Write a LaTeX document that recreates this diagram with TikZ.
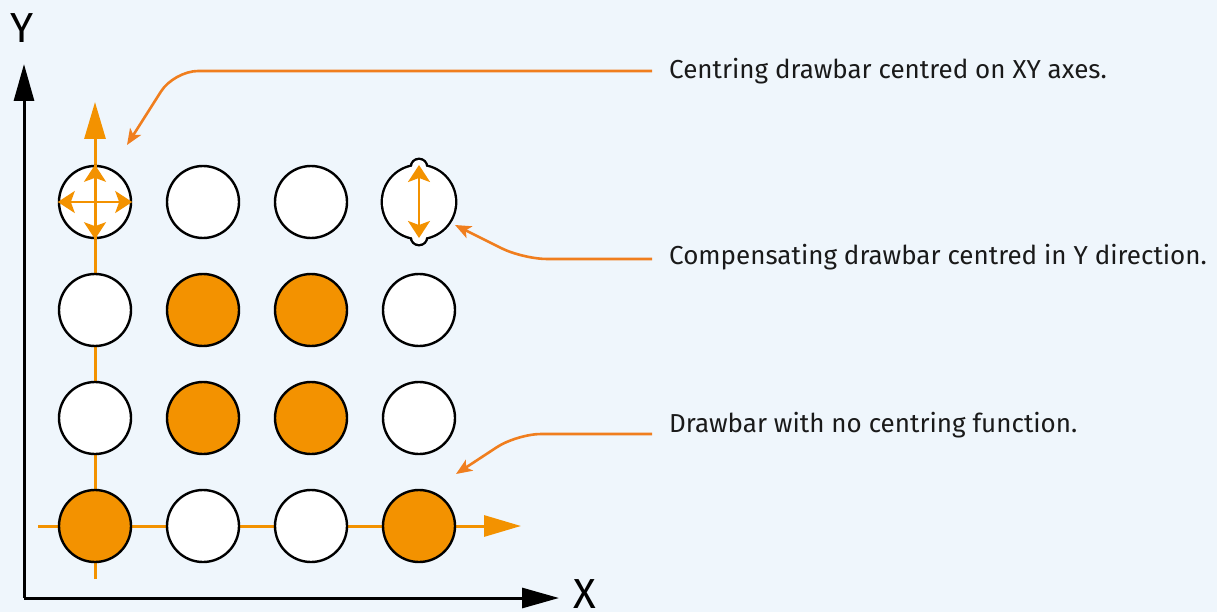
\documentclass[tikz,border=0pt]{standalone}
\usepackage{fontspec}
\setmainfont{Fira Sans}
\usetikzlibrary{arrows.meta}
\definecolor{bg}{HTML}{EFF6FC}
\definecolor{ora}{HTML}{F39200}
\definecolor{lead}{HTML}{F07E1E}
\definecolor{txt}{HTML}{1A1A1A}
\tikzset{
  disc/.style={circle,draw=black,line width=2.4pt,minimum size=72pt,inner sep=0pt},
  wdisc/.style={disc,fill=white},
  odisc/.style={disc,fill=ora},
  oaxis/.style={draw=ora,line width=3pt},
  bigtip/.style={-{Triangle[length=37pt,width=21pt]}},
  axisline/.style={draw=black,line width=3pt,-{Triangle[length=37pt,width=20pt]}},
  inarrow/.style={draw=ora,line width=2.4pt,{Stealth[length=17pt,width=22pt,inset=4pt]}-{Stealth[length=17pt,width=22pt,inset=4pt]}},
  leader/.style={draw=lead,line width=2.6pt,rounded corners=24pt,-{Stealth[length=16pt,width=13pt,inset=4pt]}},
  label/.style={anchor=west,inner ysep=0pt,inner xsep=17pt,text=txt,font=\fontsize{26}{30}\selectfont},
  axlabel/.style={text=black,inner sep=0pt,text height=29pt,text depth=0pt,font=\fontsize{42}{46}\selectfont}
}
\begin{document}
\begin{tikzpicture}[x=1pt,y=-1pt]
\fill[bg] (0,0) rectangle (1217,612);
\useasboundingbox (0,0) rectangle (1217,612);
% axes
\coordinate (o) at (24,598);
\coordinate (ytop) at (24,64);
\coordinate (xend) at (559,598);
\draw[axisline] (o) -- (ytop);
\draw[axisline] (o) -- (xend);
\node[axlabel] (ylab) at (22,28) {Y};
\node[axlabel] (xlab) at (585,594) {X};
% orange axes
\coordinate (vb) at (95,579);
\coordinate (vt) at (95,102);
\coordinate (hl) at (38,526);
\coordinate (hr) at (521,526);
\draw[oaxis,bigtip] (vb) -- (vt);
\draw[oaxis,bigtip] (hl) -- (hr);
% discs
\node[wdisc] (a1) at (95,202) {};
\node[wdisc] (a2) at (203,202) {};
\node[wdisc] (a3) at (311,202) {};
\node[wdisc] (b1) at (95,310) {};
\node[odisc] (b2) at (203,310) {};
\node[odisc] (b3) at (311,310) {};
\node[wdisc] (b4) at (419,310) {};
\node[wdisc] (c1) at (95,418) {};
\node[odisc] (c2) at (203,418) {};
\node[odisc] (c3) at (311,418) {};
\node[wdisc] (c4) at (419,418) {};
\node[odisc] (d1) at (95,526) {};
\node[wdisc] (d2) at (203,526) {};
\node[wdisc] (d3) at (311,526) {};
\node[odisc] (d4) at (419,526) {};
% compensating disc with tabs
\coordinate (a4) at (419,202);
\draw[black,line width=4.8pt] (a4) circle (36) (419,167) circle (7) (419,237) circle (7);
\fill[white] (a4) circle (36) (419,167) circle (7) (419,237) circle (7);
% arrows in first disc
\draw[oaxis] (a1.north) -- (a1.south);
\draw[inarrow] (a1.west) -- (a1.east);
\draw[inarrow] (a1.north) -- (a1.south);
\draw[inarrow] (419,165) -- (419,238);
% labels
\node[label] (t1) at (652,71) {Centring drawbar centred on XY axes.};
\node[label] (t2) at (652,257) {Compensating drawbar centred in Y direction.};
\node[label] (t3) at (652,425) {Drawbar with no centring function.};
\coordinate (p1) at (127,145);
\coordinate (p2) at (455,225);
\coordinate (p3) at (456,474);
\draw[leader] (t1.west) -- (174,71) -- (p1);
\draw[leader] (t2.west |- 0,259) -- (523,259) -- (p2);
\draw[leader] (t3.west |- 0,434) -- (517,434) -- (p3);
\end{tikzpicture}
\end{document}
